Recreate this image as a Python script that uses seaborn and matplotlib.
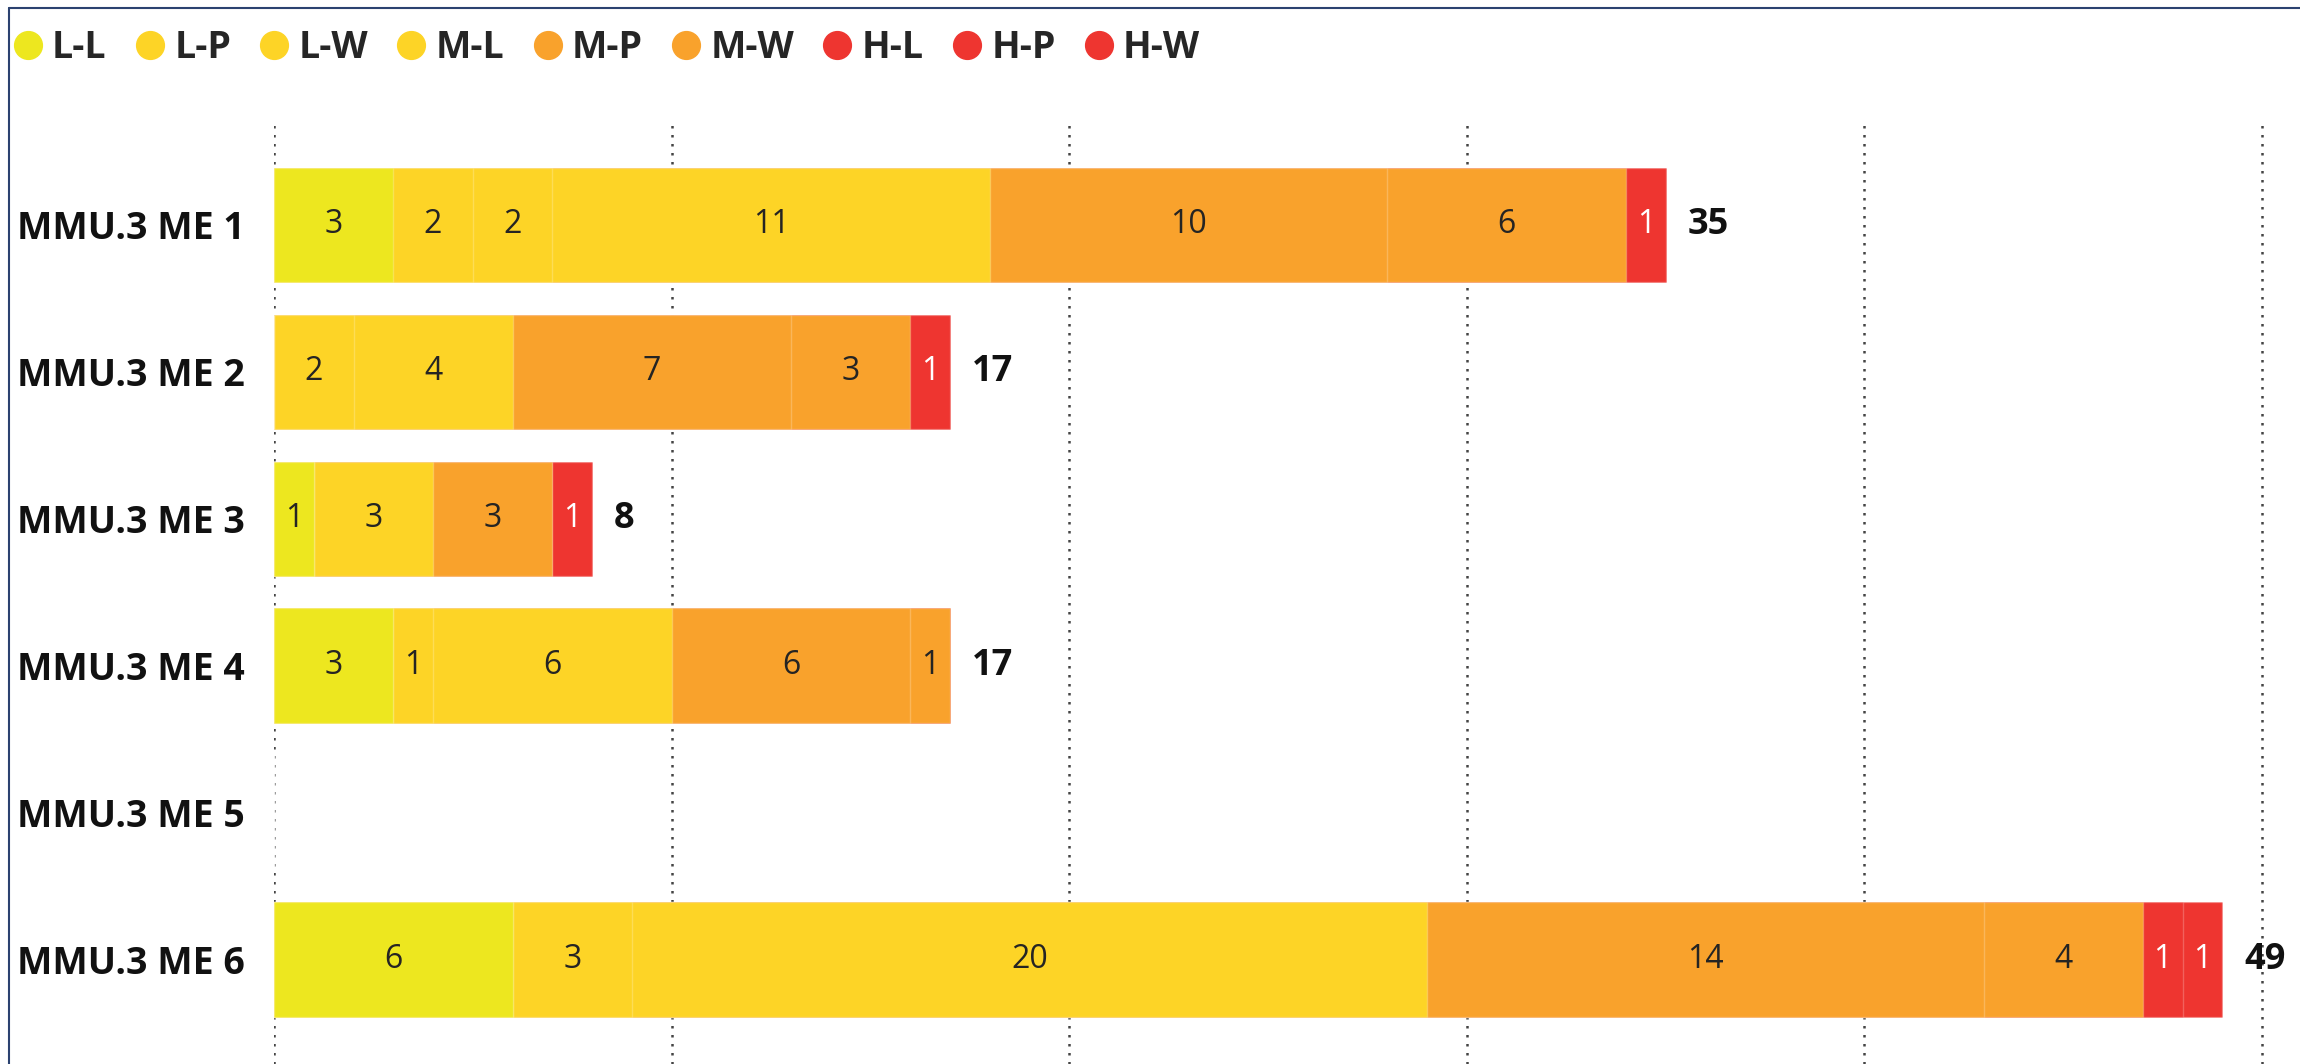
import numpy as np
import pandas as pd
import matplotlib
matplotlib.use("Agg")
import matplotlib.pyplot as plt
import seaborn as sns
from matplotlib.lines import Line2D

categories = ["MMU.3 ME 1", "MMU.3 ME 2", "MMU.3 ME 3", "MMU.3 ME 4", "MMU.3 ME 5", "MMU.3 ME 6"]
series = ["L-L", "L-P", "L-W", "M-L", "M-P", "M-W", "H-L", "H-P", "H-W"]
ll = [3, 0, 1, 3, 0, 6]
lp = [2, 0, 0, 0, 0, 0]
lw = [2, 2, 0, 1, 0, 3]
ml = [11, 4, 3, 6, 0, 20]
mp = [10, 7, 3, 6, 0, 14]
mw = [6, 3, 0, 1, 0, 4]
hl = [1, 1, 1, 0, 0, 1]
hp = [0, 0, 0, 0, 0, 1]
hw = [0, 0, 0, 0, 0, 0]
series_colors = ["#EDE71F", "#FDD426", "#FDD426", "#FDD426", "#F9A22C", "#F9A22C",
                 "#EE3530", "#EE3530", "#EE3530"]
grid_ticks = [0, 10, 20, 30, 40, 50]

sns.set_theme(style="white")
plt.rcParams["font.family"] = ["Open Sans", "DejaVu Sans"]

df = pd.DataFrame(dict(zip(series, [ll, lp, lw, ml, mp, mw, hl, hp, hw])), index=categories)
cum = df.cumsum(axis=1)
totals = df.sum(axis=1)

W, H = 2300, 1064
fig = plt.figure(figsize=(W / 100, H / 100), dpi=100)
ax = fig.add_axes([274 / W, 0, (2278 - 274) / W, 1 - 125 / H])

for i in range(len(series) - 1, -1, -1):
    s = series[i]
    d = pd.DataFrame({"cat": categories, "val": cum[s].values})
    sns.barplot(data=d, x="val", y="cat", order=categories, orient="h",
                color=series_colors[i], saturation=1, width=0.78,
                edgecolor=(1, 1, 1, 0.22), linewidth=1, ax=ax, errorbar=None)

ax.set_xlim(0, 50.4)
ax.set_ylim(5.71, -0.68)
ax.set_xticks(grid_ticks)
ax.set_axisbelow(True)
ax.grid(axis="x", linestyle=(0, (1, 2.6)), linewidth=1.8, color="#444444")
ax.grid(axis="y", visible=False)
ax.tick_params(axis="x", length=0, labelbottom=False)
ax.tick_params(axis="y", length=0, pad=21)
ax.set_yticks(range(len(categories)))
ax.set_yticklabels(categories, fontsize=27, fontweight="bold", color="#111111")
ax.set_xlabel("")
ax.set_ylabel("")
for sp in ax.spines.values():
    sp.set_visible(False)

for j, cat in enumerate(categories):
    start = 0
    for i, s in enumerate(series):
        v = df.loc[cat, s]
        if v > 0:
            col = "white" if series_colors[i] == "#EE3530" else "#252423"
            ax.text(start + v / 2, j, str(v), ha="center", va="center",
                    fontsize=23, color=col)
        start += v
    if totals[cat] > 0:
        ax.text(totals[cat] + 0.55, j, str(totals[cat]), ha="left", va="center",
                fontsize=26, fontweight="bold", color="#111111")

handles = [Line2D([], [], marker="o", linestyle="", markersize=20,
                  markerfacecolor=c, markeredgecolor=c) for c in series_colors]
fig.legend(handles, series, loc="upper left", bbox_to_anchor=(7 / W, 1 - 22 / H),
           ncol=9, frameon=False, handlelength=0.7, handletextpad=0.3,
           columnspacing=0.8, borderaxespad=0, borderpad=0.2,
           prop={"size": 27, "weight": "bold"})

fig.add_artist(Line2D([9 / W, 9 / W], [0, 1 - 8 / H], color="#2B4270", linewidth=1.5))
fig.add_artist(Line2D([9 / W, 1], [1 - 8 / H, 1 - 8 / H], color="#2B4270", linewidth=1.5))

fig.savefig("out.png", dpi=100)
